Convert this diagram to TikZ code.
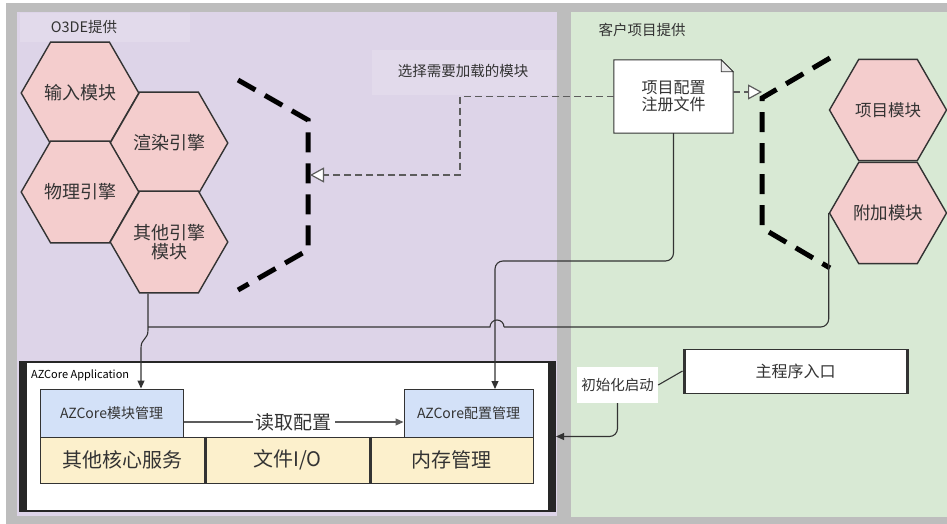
\documentclass[tikz,border=0pt]{standalone}
\usepackage{fontspec}
\setmainfont{Noto Sans CJK SC}
\usetikzlibrary{positioning,calc,shapes.geometric,arrows.meta}
\definecolor{bgpurple}{HTML}{DDD4E8}
\definecolor{bggreen}{HTML}{D8E9D4}
\definecolor{bggray}{HTML}{BDBDBD}
\definecolor{hexred}{HTML}{F4CDCD}
\definecolor{boxblue}{HTML}{D3E1F8}
\definecolor{boxyellow}{HTML}{FCF0CC}
\definecolor{ink}{HTML}{333333}
\tikzset{
  hexmod/.style={regular polygon, regular polygon sides=6, minimum size=117pt, inner sep=0pt,
    fill=hexred, draw=ink, line width=1.4pt, text=ink, align=center, font=\fontsize{18}{19}\selectfont},
  bluebox/.style={rectangle, fill=boxblue, draw=ink, line width=1pt, text=ink, minimum height=48pt, font=\fontsize{14}{16}\selectfont},
  cellbox/.style={rectangle, fill=boxyellow, draw=ink, line width=1pt, text=ink, minimum height=46pt, font=\fontsize{20}{22}\selectfont},
  conn/.style={draw=ink, line width=1.1pt},
  arr/.style={conn, -{Triangle[length=8pt,width=7pt]}},
  dasharr/.style={draw=ink!80, line width=1.2pt, dash pattern=on 7pt off 4pt,
    -{Triangle[open,length=14pt,width=15pt,fill=white]}},
  brk/.style={line width=5pt, dash pattern=on 20pt off 11pt, black},
  title/.style={text=ink, font=\fontsize{14.5}{16}\selectfont}
}
\begin{document}
\begin{tikzpicture}[x=1pt,y=-1pt]
  \useasboundingbox (0,0) rectangle (947,524);
  % background areas
  \fill[white] (0,0) rectangle (947,524);
  \fill[bggray] (6,3) rectangle (947,524);
  \fill[bgpurple] (17,12) rectangle (557,516);
  \fill[bggreen] (571,12) rectangle (947,517);
  \fill[white, opacity=.15] (20,13) rectangle (190,42);
  \fill[white, opacity=.15] (372,50) rectangle (556,95);

  \node[title] (o3de) at (84,27) {O3DE提供};
  \node[title] (client) at (642,30) {客户项目提供};
  \node[title] (pick) at (463,71) {选择需要加载的模块};

  % engine modules
  \node[hexmod] (hexA) at (80,93) {输入模块};
  \node[hexmod] (hexB) at (169,143) {渲染引擎};
  \node[hexmod] (hexC) at (80,192) {物理引擎};
  \node[hexmod] (hexD) at (169,242) {其他引擎\\模块};
  \node[hexmod, font=\fontsize{16.5}{18}\selectfont] (hexE) at (888,110) {项目模块};
  \node[hexmod, font=\fontsize{17.5}{18}\selectfont] (hexF) at (888,213) {附加模块};

  % brackets
  \draw[brk] (238,80) -- (308,120) -- (308,250) -- (238,290);
  \draw[brk] (830,58) -- (762,98) -- (762,228) -- (830,268);
  \coordinate (ltip) at (310,175);
  \coordinate (rtip) at (762,92);

  % project registry file
  \node[text=ink, minimum width=119pt, minimum height=73pt, align=center,
    font=\fontsize{16}{17}\selectfont] (reg) at (673.5,96.5) {项目配置\\注册文件};
  \fill[white] (reg.south west) -- (reg.north west) -- ([xshift=-12pt]reg.north east)
    -- ([yshift=-12pt]reg.north east) -- (reg.south east) -- cycle;
  \draw[ink, line width=1pt] (reg.south west) -- (reg.north west) -- ([xshift=-12pt]reg.north east)
    -- ([yshift=-12pt]reg.north east) -- (reg.south east) -- cycle;
  \filldraw[draw=ink, fill=gray!15, line width=.8pt] ([xshift=-12pt]reg.north east)
    -- ([xshift=-12pt,yshift=-12pt]reg.north east) -- ([yshift=-12pt]reg.north east) -- cycle;
  \node[text=ink, align=center, font=\fontsize{16}{17}\selectfont] at (reg) {项目配置\\注册文件};

  \draw[dasharr] (reg.west) -- (460,96.5) -- (460,175) -- (ltip);
  \draw[dasharr] (reg.east |- rtip) -- (rtip);

  % AZCore application
  \node[rectangle, fill=white, draw=black!85, line width=2pt, minimum width=535pt, minimum height=149pt] (app) at (287.5,436.5) {};
  \fill[black!85] (app.north west) rectangle ([xshift=8pt]app.south west);
  \fill[black!85] ([xshift=-8pt]app.north east) rectangle (app.south east);
  \node[anchor=west, text=black, font=\fontsize{11}{12}\selectfont, inner sep=1pt] (apptitle) at (30,375) {AZCore Application};

  \node[bluebox, minimum width=143pt] (mod) at (111.5,413) {AZCore模块管理};
  \node[bluebox, minimum width=129pt] (conf) at (468.5,413) {AZCore配置管理};
  \node[cellbox, minimum width=165pt] (other) at (122.5,460) {其他核心服务};
  \node[cellbox, minimum width=165pt] (fileio) at (287.5,460) {文件I/O};
  \node[cellbox, minimum width=163pt] (mem) at (451.5,460) {内存管理};
  \draw[ink, line width=2.5pt] (other.north east) -- (other.south east);
  \draw[ink, line width=2.5pt] (fileio.north east) -- (fileio.south east);

  \draw[arr, draw=ink!80] ([yshift=-9pt]mod.east) -- node[fill=white, text=ink, inner sep=3pt,
    font=\fontsize{19}{20}\selectfont] (read) {读取配置} ([yshift=-9pt]conf.west);

  % links into the application
  \coordinate (hopA) at (141,348);
  \draw[arr] ([xshift=-21pt]hexD.south) -- (148,330) .. controls (148,340) and (141,338) .. (hopA) -- (hopA |- mod.north);
  \draw[conn, rounded corners=8pt] (hexF.corner 3) |- (504,327);
  \draw[conn] (504,327) arc[start angle=0, delta angle=-180, radius=7] -- (148,327);
  \draw[arr, rounded corners=8pt] (reg.south) |- (495,261) -- (495,389);

  % entry point
  \node[rectangle, fill=white, draw=ink, line width=1pt, minimum width=225pt, minimum height=44pt,
    text=ink, font=\fontsize{16}{17}\selectfont] (entry) at (795.5,371) {主程序入口};
  \fill[ink] (entry.north west) rectangle ([xshift=3pt]entry.south west);
  \fill[ink] ([xshift=-3pt]entry.north east) rectangle (entry.south east);
  \node[fill=white, text=ink, minimum width=81pt, minimum height=36pt,
    font=\fontsize{14.5}{16}\selectfont] (init) at (617.5,385) {初始化启动};
  \draw[conn] (entry.west) -- (init.east);
  \draw[arr, rounded corners=8pt] (init.south) |- (app.east);
\end{tikzpicture}
\end{document}
